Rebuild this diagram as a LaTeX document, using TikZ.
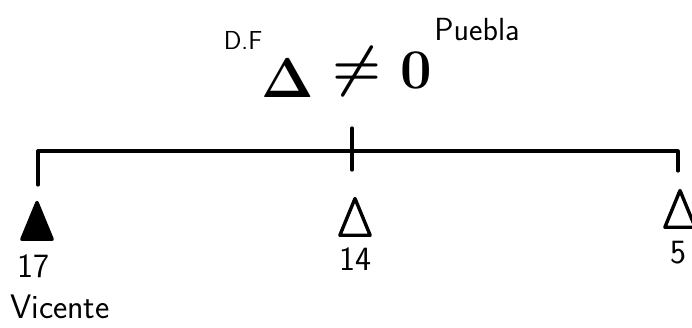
\documentclass[tikz,border=0pt]{standalone}
\usepackage{fix-cm}
\usepackage{fontspec}
\usetikzlibrary{shapes.geometric}
\begin{document}
\begin{tikzpicture}[x=1pt,y=1pt,
line/.style={line width=3.2pt,line cap=round,line join=round},
member/.style={regular polygon,regular polygon sides=3,draw,line width=3.4pt,line join=round,minimum size=35pt,inner sep=0pt,yscale=1.4},
lbl/.style={font=\fontsize{34}{34}\selectfont\sffamily,inner sep=0pt},
big/.style={font=\fontsize{56}{56}\selectfont\boldmath,inner sep=0pt}
]
\useasboundingbox (0,0) rectangle (692,327);
\coordinate (lend) at (38,176);
\coordinate (rend) at (678,176);
\coordinate (lfoot) at (38,142);
\coordinate (rfoot) at (678,156);
\coordinate (mtop) at (352,199);
\coordinate (mfoot) at (352,157);
\draw[line] (lfoot) -- (lend) -- (rend) -- (rfoot);
\draw[line] (mtop) -- (mfoot);
\node[member,fill=black] (vicente) at (37,100) {};
\node[member] (second) at (355,104) {};
\node[member] (third) at (680,112) {};
\node[lbl] (n17) at (33,61) {17};
\node[lbl] (n14) at (355,68) {14};
\node[lbl] (n5) at (678,74) {5};
\node[lbl] (name) at (60,20) {Vicente};
\node[font=\fontsize{26}{26}\selectfont\sffamily,inner sep=0pt] (df) at (243,287) {D.F};
\node[font=\fontsize{32}{32}\selectfont\sffamily,inner sep=0pt] (puebla) at (477,297) {Puebla};
\node[big] (delta) at (288,249) {$\Delta$};
\node[big] (neq) at (357,255) {$\neq$};
\node[big] (zero) at (416,257) {$0$};
\end{tikzpicture}
\end{document}
